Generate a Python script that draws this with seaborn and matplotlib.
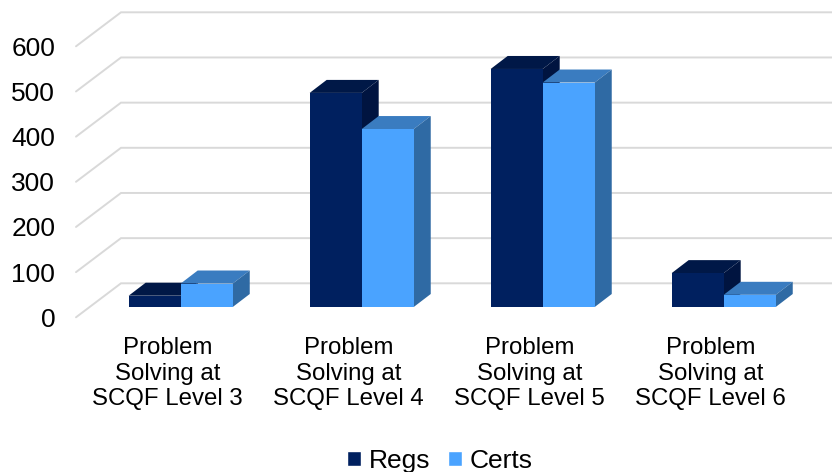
#!/usr/bin/env python3
"""Problem Solving registrations and certifications, drawn as a fake 3D bar chart."""

import pandas as pd
import matplotlib
matplotlib.use("Agg")
import matplotlib.pyplot as plt
from matplotlib.patches import Polygon
import seaborn as sns

levels = [
    "Problem\nSolving at\nSCQF Level 3",
    "Problem\nSolving at\nSCQF Level 4",
    "Problem\nSolving at\nSCQF Level 5",
    "Problem\nSolving at\nSCQF Level 6",
]
regs = [25, 474, 527, 75]
certs = [52, 394, 497, 27]
y_ticks = [0, 100, 200, 300, 400, 500, 600]

# front, top and side colour of each series
regs_colors = ("#00205f", "#001847", "#001440")
certs_colors = ("#4aa3ff", "#3a7cc0", "#2f6aa4")

W, H = 832, 472
LEFT, RIGHT, BASE, TOP = 76, 832, 317.3, 46.3
CATEGORY_PX = 181
FIRST_CENTER = 180.7

sns.set_theme(style="white")
plt.rcParams["font.family"] = ["Liberation Sans", "DejaVu Sans"]

fig = plt.figure(figsize=(W / 100, H / 100), dpi=100)
ax = fig.add_axes([LEFT / W, 1 - BASE / H, (RIGHT - LEFT) / W, (BASE - TOP) / H])

df = pd.DataFrame({
    "level": levels * 2,
    "value": regs + certs,
    "series": ["Regs"] * len(regs) + ["Certs"] * len(certs),
})
sns.barplot(
    data=df, x="level", y="value", hue="series", ax=ax,
    palette=[regs_colors[0], certs_colors[0]], width=0.575, gap=0,
    saturation=1, errorbar=None,
)

ax.set_xlim((LEFT - FIRST_CENTER) / CATEGORY_PX, (RIGHT - FIRST_CENTER) / CATEGORY_PX)
ax.set_ylim(0, 600)

# pixels to data units
x_unit = 1 / CATEGORY_PX
y_unit = 600 / (BASE - TOP)

# floor and back wall grid
floor_dx, floor_dy = 45 * x_unit, 34 * y_unit
x0, x1 = ax.get_xlim()
for v in y_ticks:
    ax.plot([x0, x0 + floor_dx, x1], [v, v + floor_dy, v + floor_dy],
            color="#d9d9d9", lw=1.4, zorder=1, clip_on=False,
            solid_joinstyle="miter")

# bars stand a little way back from the front of the floor, then get a top and side
lift = 10.3 * y_unit
depth_dx, depth_dy = 17 * x_unit, 13 * y_unit
for n, (container, colors) in enumerate(zip(ax.containers, [regs_colors, certs_colors])):
    base_z = 2 + n
    for bar in container:
        bar.set_y(lift)
        bar.set_zorder(base_z + 0.5)
        bar.set_edgecolor("none")
        bar.set_clip_on(False)
        xa, xb = bar.get_x(), bar.get_x() + bar.get_width()
        ya, yb = bar.get_y(), bar.get_y() + bar.get_height()
        top = [(xa, yb), (xb, yb), (xb + depth_dx, yb + depth_dy), (xa + depth_dx, yb + depth_dy)]
        side = [(xb, ya), (xb + depth_dx, ya + depth_dy), (xb + depth_dx, yb + depth_dy), (xb, yb)]
        ax.add_patch(Polygon(top, closed=True, fc=colors[1], ec="none",
                             zorder=base_z, clip_on=False))
        ax.add_patch(Polygon(side, closed=True, fc=colors[2], ec="none",
                             zorder=base_z, clip_on=False))

# axis text
ax.set_yticks(y_ticks)
ax.set_xticks([i - 13 * x_unit for i in range(len(levels))])
ax.set_xticklabels(levels, linespacing=1.2)
ax.tick_params(axis="x", length=0, labelsize=17.3, pad=14.5, colors="black")
ax.tick_params(axis="y", length=0, labelsize=19, pad=15, colors="black")
ax.set_xlabel("")
ax.set_ylabel("")
sns.despine(ax=ax, left=True, bottom=True)
ax.patch.set_alpha(0)

# legend along the bottom
handles, labels = ax.get_legend_handles_labels()
ax.get_legend().remove()
fig.legend(
    handles, labels, loc="center", bbox_to_anchor=(440 / W, 1 - 461 / H), ncol=2,
    frameon=False, fontsize=19, handlelength=0.53, handleheight=0.53,
    handletextpad=0.28, columnspacing=0.69, borderpad=0, labelcolor="black",
)

fig.savefig("out.png", dpi=100)
